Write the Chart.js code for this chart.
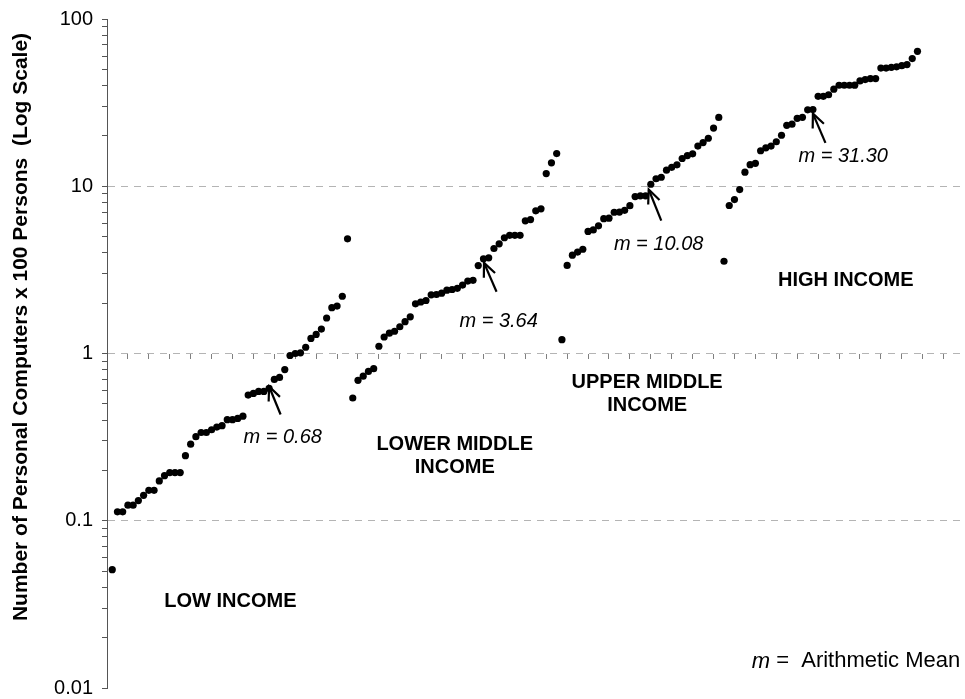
<!DOCTYPE html>
<html>
<head>
<meta charset="utf-8">
<script src="https://cdn.jsdelivr.net/npm/chart.js@4.4.1/dist/chart.umd.min.js"></script>
<style>
html,body{margin:0;padding:0;background:#fff;}
#wrap{width:965px;height:699px;position:relative;}
</style>
</head>
<body>
<div id="wrap"><canvas id="c"></canvas></div>
<script>
// ---- data (countries sorted within each income group) ----
const lowIncome = [0.051,0.113,0.113,0.124,0.124,0.132,0.142,0.152,0.152,0.173,0.186,0.194,0.194,0.194,0.245,0.287,0.318,0.337,0.337,0.350,0.363,0.370,0.402,0.402,0.409,0.422,0.564,0.577,0.593,0.593,0.618,0.700,0.719,0.802,0.973,1.00,1.01,1.09,1.23,1.30,1.40,1.63,1.88,1.92,2.20,4.85];
const lowerMiddleIncome = [0.542,0.691,0.732,0.781,0.811,1.105,1.255,1.322,1.358,1.445,1.550,1.657,1.982,2.032,2.074,2.244,2.253,2.293,2.390,2.414,2.454,2.566,2.711,2.739,3.357,3.683,3.734,4.244,4.528,4.92,5.09,5.09,5.09,6.21,6.32,7.13,7.33,11.91,13.80,15.68];
const upperMiddleIncome = [1.21,3.36,3.87,4.04,4.20,5.37,5.48,5.80,6.40,6.44,6.99,7.01,7.18,7.65,8.67,8.77,8.77,10.28,11.09,11.32,12.47,12.97,13.43,14.65,15.26,15.62,17.39,18.24,19.36,22.28,25.8];
const highIncome = [3.56,7.67,8.32,9.55,12.13,13.45,13.71,16.30,16.97,17.39,18.45,20.18,23.12,23.50,25.46,25.83,28.62,28.72,34.51,34.51,35.24,38.04,40.17,40.17,40.17,40.2,42.66,43.43,44.05,44.05,50.9,50.9,51.4,51.8,52.6,53.4,58.0,64.1];

const groupNames = [['LOW INCOME'], ['LOWER MIDDLE','INCOME'], ['UPPER MIDDLE','INCOME'], ['HIGH INCOME']];
const groupMeans = [0.68, 3.64, 10.08, 31.30];

const yTickValues = [0.01, 0.1, 1, 10, 100];
const yTickLabels = ['0.01', '0.1', '1', '10', '100'];
const yGridValues = [0.1, 1, 10];
const xTickStep = 4;

const yTitle = 'Number of Personal Computers x 100 Persons  (Log Scale)';
const noteItalic = 'm';
const noteText = ' =  Arithmetic Mean';

// ---- annotation anchors (in data coordinates: country index, value) ----
const meanLabelPos = [[33.6, 0.315], [74.9, 1.553], [105.5, 4.48], [140.8, 15.05]];
const arrowTail = [[33.2, 0.432], [74.5, 2.338], [106.0, 6.237], [137.4, 18.17]];
const arrowTip = [[31.0, 0.635], [72.1, 3.485], [103.6, 9.56], [135.0, 27.2]];
const groupLabelPos = [[23.6, 0.0329], [66.5, 0.2858], [103.3, 0.671], [141.3, 2.731]];
const notePos = [123.3, 0.01442];

const FONT = '"Liberation Sans", Arial, Helvetica, sans-serif';

// ---- build datasets ----
const groups = [lowIncome, lowerMiddleIncome, upperMiddleIncome, highIncome];
let runIdx = 1;
const datasets = groups.map((g, k) => {
  const data = g.map((v, i) => ({x: runIdx + i, y: v}));
  runIdx += g.length;
  return {
    label: groupNames[k].join(' '),
    data,
    backgroundColor: '#000',
    borderColor: '#000',
    borderWidth: 0,
    pointRadius: 3.6,
    pointHoverRadius: 3.6,
    showLine: false
  };
});
const xMax = 163.4;

function yTicksList() {
  const out = [];
  for (let d = 0; d < yTickValues.length - 1; d++) {
    for (let k = 1; k <= 9; k++) out.push(k * yTickValues[d]);
  }
  out.push(yTickValues[yTickValues.length - 1]);
  return out;
}
function isIn(list, v) {
  return list.some(t => Math.abs(Math.log10(t) - Math.log10(v)) < 1e-6);
}

const annot = {
  id: 'annot',
  afterDatasetsDraw(chart) {
    const {ctx} = chart;
    const x = chart.scales.x, y = chart.scales.y;
    const P = p => [x.getPixelForValue(p[0]), y.getPixelForValue(p[1])];
    ctx.save();
    ctx.fillStyle = '#000';
    ctx.strokeStyle = '#000';
    ctx.textBaseline = 'middle';
    ctx.textAlign = 'center';
    // mean labels
    ctx.font = 'italic 20px ' + FONT;
    meanLabelPos.forEach((p, i) => {
      const [a, b] = P(p);
      ctx.fillText('m = ' + groupMeans[i].toFixed(2), a, b);
    });
    // arrows
    ctx.lineWidth = 2.2;
    ctx.lineCap = 'butt';
    ctx.lineJoin = 'miter';
    arrowTail.forEach((t, i) => {
      const [x1, y1] = P(t);
      const [x2, y2] = P(arrowTip[i]);
      const th = Math.atan2(y2 - y1, x2 - x1);
      const L = 15, sp = 24 * Math.PI / 180;
      ctx.beginPath();
      ctx.moveTo(x1, y1);
      ctx.lineTo(x2, y2);
      ctx.stroke();
      ctx.beginPath();
      ctx.moveTo(x2 - L * Math.cos(th - sp), y2 - L * Math.sin(th - sp));
      ctx.lineTo(x2, y2);
      ctx.lineTo(x2 - L * Math.cos(th + sp), y2 - L * Math.sin(th + sp));
      ctx.stroke();
    });
    // group labels
    ctx.font = 'bold 20px ' + FONT;
    groupLabelPos.forEach((p, i) => {
      const [a, b] = P(p);
      groupNames[i].forEach((line, j) => ctx.fillText(line, a, b + j * 23));
    });
    // note
    ctx.textAlign = 'left';
    const [nx, ny] = P(notePos);
    ctx.font = 'italic 22px ' + FONT;
    ctx.fillText(noteItalic, nx, ny);
    const w = ctx.measureText(noteItalic).width;
    ctx.font = '22px ' + FONT;
    ctx.fillText(noteText, nx + w, ny);
    ctx.restore();
  },
  afterDraw(chart) {
    const {ctx} = chart;
    ctx.save();
    ctx.translate(21, 327);
    ctx.rotate(-Math.PI / 2);
    ctx.fillStyle = '#000';
    ctx.textAlign = 'center';
    ctx.textBaseline = 'middle';
    ctx.font = 'bold 21px ' + FONT;
    ctx.fillText(yTitle, 0, 0);
    ctx.restore();
  }
};

new Chart(document.getElementById('c'), {
  type: 'scatter',
  data: {datasets},
  plugins: [annot],
  options: {
    responsive: true,
    maintainAspectRatio: false,
    animation: false,
    devicePixelRatio: 1,
    events: [],
    layout: {padding: {left: 0, top: 19, right: 3, bottom: 3}},
    plugins: {legend: {display: false}, tooltip: {enabled: false}},
    scales: {
      x: {
        type: 'linear',
        min: 0,
        max: xMax,
        position: {y: 1},
        afterBuildTicks: s => {
          const t = [];
          for (let v = 0; v <= xMax; v += xTickStep) t.push({value: v});
          s.ticks = t;
        },
        afterFit: s => { s.height = 0; },
        ticks: {display: false},
        border: {display: false},
        grid: {
          drawOnChartArea: false,
          drawTicks: true,
          tickLength: 5,
          tickColor: '#808080',
          tickWidth: 1
        }
      },
      y: {
        type: 'logarithmic',
        min: 0.01,
        max: 100,
        afterBuildTicks: s => { s.ticks = yTicksList().map(v => ({value: v})); },
        afterFit: s => { s.width = 107; s.paddingTop = 10; s.paddingBottom = 11; },
        ticks: {
          autoSkip: false,
          padding: 9,
          color: '#000',
          font: {family: FONT, size: 20, lineHeight: 1},
          callback: (v) => {
            const i = yTickValues.findIndex(t => Math.abs(Math.log10(t) - Math.log10(v)) < 1e-6);
            return i >= 0 ? yTickLabels[i] : '';
          }
        },
        border: {display: true, color: '#555', width: 1, dash: [7, 6]},
        grid: {
          drawTicks: true,
          tickLength: 5,
          tickColor: '#555',
          tickWidth: 1,
          lineWidth: 1,
          color: c => (c.tick && isIn(yGridValues, c.tick.value)) ? '#b4b4b4' : 'rgba(0,0,0,0)'
        }
      }
    }
  }
});
</script>
</body>
</html>
